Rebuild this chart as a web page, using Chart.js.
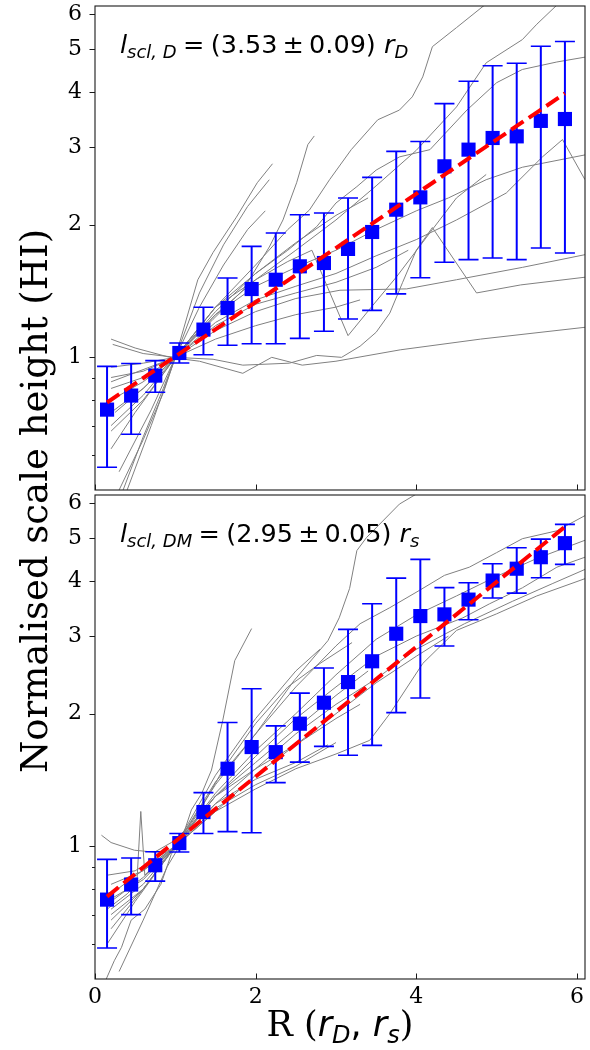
<!DOCTYPE html>
<html>
<head>
<meta charset="utf-8">
<script src="https://cdn.jsdelivr.net/npm/chart.js@4.4.0/dist/chart.umd.min.js"></script>
<style>
  html, body { margin: 0; padding: 0; background: #fff; }
  #wrap { position: relative; width: 590px; height: 1050px; overflow: hidden; }
  canvas { position: absolute; left: 0; }
  #topPanel { top: 0; }
  #botPanel { top: 492px; }
  #yTitle {
    position: absolute; left: -319px; top: 483px; width: 700px; height: 36px;
    line-height: 36px; text-align: center; white-space: nowrap;
    font: 37px "DejaVu Serif"; color: #000; transform: rotate(-90deg);
  }
</style>
</head>
<body>
<div id="wrap">
  <canvas id="topPanel" width="590" height="492"></canvas>
  <canvas id="botPanel" width="590" height="558"></canvas>
  <div id="yTitle">Normalised scale height (HI)</div>
</div>
<script>
// radial bins (R in units of r_D or r_s)
const binR = [0.15, 0.45, 0.75, 1.05, 1.35, 1.65, 1.95, 2.25, 2.55, 2.85,
              3.15, 3.45, 3.75, 4.05, 4.35, 4.65, 4.95, 5.25, 5.55, 5.85];

// stacked median and spread, disc scale length normalisation
const meanD = [0.761, 0.819, 0.909, 1.023, 1.156, 1.294, 1.429, 1.50, 1.609, 1.637,
               1.762, 1.925, 2.163, 2.307, 2.713, 2.96, 3.146, 3.173, 3.44, 3.474];
const lowD  = [0.563, 0.669, 0.833, 0.971, 1.014, 1.065, 1.074, 1.074, 1.104, 1.146,
               1.222, 1.278, 1.393, 1.516, 1.643, 1.666, 1.68, 1.666, 1.771, 1.725];
const highD = [0.954, 0.968, 0.983, 1.078, 1.299, 1.514, 1.786, 1.915, 2.107, 2.126,
               2.299, 2.561, 2.934, 3.09, 3.764, 4.23, 4.59, 4.65, 5.08, 5.21];

// same, dark matter scale radius normalisation
const meanDM = [0.757, 0.819, 0.906, 1.017, 1.196, 1.50, 1.68, 1.636, 1.898, 2.118,
                2.359, 2.63, 3.037, 3.331, 3.36, 3.63, 4.01, 4.266, 4.53, 4.875];
const lowDM  = [0.588, 0.70, 0.834, 0.971, 1.069, 1.08, 1.074, 1.395, 1.553, 1.686,
                1.609, 1.695, 2.011, 2.17, 2.848, 3.268, 3.66, 3.755, 4.07, 4.363];
const highDM = [0.934, 0.941, 0.972, 1.069, 1.324, 1.91, 2.279, 1.877, 2.227, 2.54,
                3.107, 3.553, 4.06, 4.48, 3.864, 3.965, 4.378, 4.76, 4.98, 5.377];

// exponential fits h = A exp(R / l)
const fitNormD = 0.757, fitScaleD = 3.53, fitErrD = 0.09;
const fitNormDM = 0.731, fitScaleDM = 2.95, fitErrDM = 0.05;

// individual galaxy profiles, [R, h] pairs
const profilesD = [
  [[0.2,1.1],[0.5,1.05],[0.93,1.0],[1.3,0.98],[1.84,0.92],[2.2,1.0],[2.58,0.96],[3.0,0.98],[3.8,1.04],[4.8,1.1],[6.1,1.17]],
  [[0.22,1.07],[0.6,1.02],[1.0,1.0],[1.47,0.99],[1.84,0.96],[2.42,0.97],[2.76,1.01],[3.07,1.0],[3.3,1.06],[3.5,1.14],[3.67,1.26],[3.83,1.48],[4.0,1.75],[4.2,1.97],[4.75,1.40],[5.3,1.46],[6.1,1.52]],
  [[0.2,0.62],[0.5,0.75],[1.0,1.0],[1.5,1.3],[2.0,1.5],[2.4,1.65],[2.7,1.75],[3.15,1.12],[3.44,1.3],[3.75,1.52],[4.2,1.95],[4.5,2.3],[4.87,2.6]],
  [[0.2,0.95],[0.6,0.97],[1.0,1.0],[1.5,1.15],[2.0,1.27],[2.5,1.36],[3.05,1.42],[3.88,1.43],[4.5,1.5],[5.32,1.6],[6.1,1.71]],
  [[0.35,0.5],[0.6,0.66],[0.85,0.85],[1.0,1.0],[1.28,1.5],[1.47,1.73],[1.76,2.08],[2.02,2.49],[2.21,2.75]],
  [[0.3,0.5],[0.6,0.65],[0.85,0.83],[1.0,1.0],[1.3,1.4],[1.6,1.8],[1.9,2.2],[2.17,2.53]],
  [[0.4,0.5],[0.7,0.7],[1.0,1.0],[1.3,1.3],[1.6,1.62],[1.9,1.95],[2.12,2.15]],
  [[0.3,0.55],[0.7,0.76],[1.0,1.0],[1.47,1.22],[1.84,1.42],[2.17,1.78],[2.34,2.05],[2.51,2.49],[2.65,3.04],[2.73,3.18]],
  [[0.25,0.75],[0.6,0.85],[1.0,1.0],[1.5,1.3],[2.0,1.62],[2.4,1.95],[2.67,2.16],[2.92,2.53],[3.19,2.96],[3.52,3.46],[3.79,3.64],[3.95,3.9],[4.08,4.33],[4.2,5.07],[4.5,5.6],[4.85,6.3]],
  [[0.2,0.85],[0.6,0.9],[1.0,1.0],[1.5,1.3],[2.0,1.55],[2.4,1.75],[2.76,1.98],[3.0,2.24],[3.26,2.44],[3.5,2.66],[3.79,2.85],[4.17,2.96],[4.63,3.64],[5.0,4.2],[5.32,4.5],[5.75,4.68],[6.1,4.8]],
  [[0.2,0.9],[0.6,0.93],[1.0,1.0],[1.5,1.25],[2.0,1.5],[2.5,1.75],[3.0,2.05],[3.5,2.45],[4.0,2.95],[4.5,3.7],[4.87,4.66],[5.32,5.26],[5.5,5.7],[5.75,6.3]],
  [[0.2,0.7],[0.6,0.82],[1.0,1.0],[1.5,1.2],[2.0,1.35],[2.5,1.45],[3.0,1.55],[3.5,1.7],[4.0,1.85],[4.5,2.05],[5.12,2.36],[5.57,2.85],[5.82,3.12],[6.1,2.53]],
  [[0.2,0.8],[0.6,0.88],[1.0,1.0],[1.5,1.25],[2.0,1.45],[2.5,1.6],[3.0,1.75],[3.5,1.95],[4.0,2.15],[4.4,2.3],[4.87,2.53],[5.32,2.7],[6.1,2.88]],
  [[0.2,0.75],[0.6,0.85],[1.0,1.0],[1.5,1.27],[2.0,1.55],[2.5,1.82],[3.0,2.1],[3.4,2.3]],
  [[0.2,0.68],[0.6,0.8],[1.0,1.0],[1.5,1.18],[2.0,1.32],[2.5,1.4],[3.0,1.48],[3.5,1.6],[3.9,1.75]],
  [[0.2,0.88],[1.0,1.0],[1.5,1.1],[2.0,1.18],[2.5,1.25],[3.0,1.3],[3.3,1.35]]
];

const profilesDM = [
  [[0.3,0.52],[0.6,0.68],[0.9,0.9],[1.05,1.0],[1.2,1.21],[1.33,1.32],[1.45,1.49],[1.59,1.93],[1.74,2.64],[1.95,3.12]],
  [[0.2,0.7],[0.6,0.8],[1.0,1.0],[1.5,1.38],[2.0,1.8],[2.48,2.38],[2.9,2.93],[3.04,3.3],[3.17,3.85],[3.26,4.69],[3.38,5.02],[3.79,5.98],[4.0,6.3]],
  [[0.2,0.72],[0.6,0.82],[1.0,1.0],[1.5,1.4],[2.0,1.8],[2.5,2.3],[3.0,2.85],[3.3,3.2],[3.67,3.48],[4.04,3.81],[4.35,4.12],[4.66,4.3],[5.0,4.64],[5.32,4.99],[5.75,5.2],[6.1,5.63]],
  [[0.2,0.75],[0.6,0.85],[1.0,1.0],[1.5,1.3],[2.0,1.6],[2.5,1.95],[3.0,2.3],[3.5,2.7],[4.0,3.0],[4.58,3.3],[4.91,3.55],[5.32,3.86],[5.75,4.3],[6.1,4.53]],
  [[0.2,0.68],[0.6,0.8],[1.0,1.0],[1.5,1.2],[2.0,1.35],[2.5,1.5],[3.0,1.62],[3.42,1.74],[3.67,2.0],[4.08,2.6],[4.5,3.09],[5.0,3.37],[5.5,3.7],[6.1,4.05]],
  [[0.2,0.78],[1.0,1.0],[1.5,1.25],[2.0,1.5],[2.5,1.8],[3.0,2.1],[3.5,2.4],[4.0,2.8],[4.6,3.2],[5.2,3.6],[5.7,3.95],[6.1,4.25]],
  [[0.15,0.72],[0.4,0.78],[0.52,0.82],[0.57,1.2],[0.62,0.86],[0.8,0.93],[1.0,1.0],[1.5,1.3],[2.0,1.55],[2.5,1.85],[3.0,2.2],[3.4,2.5]],
  [[0.08,1.06],[0.2,1.02],[0.49,0.98],[0.74,0.97],[0.95,1.02],[1.2,1.12],[1.5,1.3],[2.0,1.5],[2.5,1.7],[3.0,1.95],[3.3,2.1]],
  [[0.14,0.5],[0.24,0.55],[0.33,0.59],[0.45,0.68],[0.62,0.72],[0.82,0.82],[0.95,0.96],[1.1,1.05],[1.5,1.25],[2.0,1.42],[2.5,1.55],[2.9,1.7]],
  [[0.15,0.6],[0.5,0.75],[1.0,1.0],[1.5,1.45],[2.0,1.95],[2.5,2.5],[2.8,2.8]],
  [[0.2,0.82],[0.6,0.88],[1.0,1.0],[1.5,1.2],[2.0,1.45],[2.5,1.7],[3.0,2.0],[3.5,2.35],[4.0,2.7],[4.4,3.0]],
  [[0.2,0.76],[0.6,0.84],[1.0,1.0],[1.3,1.2],[1.6,1.5],[2.0,1.9],[2.4,2.3],[2.8,2.6],[3.2,2.9]],
  [[0.15,0.86],[0.5,0.88],[1.0,1.0],[1.5,1.22],[2.0,1.38],[2.5,1.52],[3.0,1.72]],
  [[0.2,0.65],[0.6,0.8],[1.0,1.0],[1.5,1.32],[2.0,1.65],[2.5,2.0],[3.0,2.45],[3.5,2.95],[4.0,3.35],[4.5,3.7],[5.0,4.1],[5.5,4.5],[6.1,4.95]]
];

// axis ticks
const xTicks = [0, 2, 4, 6];
const yTicks = [0.6, 0.7, 0.8, 0.9, 1, 2, 3, 4, 5, 6];
const yLabelled = [1, 2, 3, 4, 5, 6];

const BLUE = '#0000ff', RED = '#ff0000', GREY = '#808080';
const SERIF = '"DejaVu Serif", serif';
const SANS = '"DejaVu Sans", sans-serif';

// text made of runs with their own font and vertical shift; a run may be a plain gap
function drawRuns(ctx, runs, x, y, align) {
  let total = 0;
  runs.forEach(r => {
    if (r.gap) { r.w = r.gap; } else { ctx.font = r.font; r.w = ctx.measureText(r.text).width; }
    total += r.w;
  });
  let cx = align === 'center' ? x - total / 2 : x;
  ctx.textAlign = 'left';
  ctx.textBaseline = 'alphabetic';
  ctx.fillStyle = '#000';
  runs.forEach(r => {
    if (!r.gap) { ctx.font = r.font; ctx.fillText(r.text, cx, y + (r.dy || 0)); }
    cx += r.w;
  });
}

// error bars, drawn just before the square markers
const errorBars = {
  id: 'errorBars',
  beforeDatasetDraw(chart, args) {
    const ds = chart.data.datasets[args.index];
    if (!ds.errLow) return;
    const { ctx, chartArea: a, scales: { x, y } } = chart;
    ctx.save();
    ctx.beginPath();
    ctx.rect(a.left, a.top, a.right - a.left, a.bottom - a.top);
    ctx.clip();
    ctx.strokeStyle = BLUE;
    ds.data.forEach((p, i) => {
      const px = x.getPixelForValue(p.x);
      const top = y.getPixelForValue(ds.errHigh[i]);
      const bot = y.getPixelForValue(ds.errLow[i]);
      ctx.lineWidth = 2;
      ctx.beginPath();
      ctx.moveTo(px, top); ctx.lineTo(px, bot);
      ctx.stroke();
      ctx.lineWidth = 1.6;
      ctx.beginPath();
      ctx.moveTo(px - 10, top); ctx.lineTo(px + 10, top);
      ctx.moveTo(px - 10, bot); ctx.lineTo(px + 10, bot);
      ctx.stroke();
    });
    ctx.restore();
  }
};

// axes frame, tick marks and the fit annotation
const frameAndTicks = {
  id: 'frameAndTicks',
  afterDatasetsDraw(chart, args, opts) {
    const { ctx, chartArea: a, scales: { x, y } } = chart;
    ctx.save();
    ctx.strokeStyle = '#1a1a1a';
    ctx.lineWidth = 1.1;
    ctx.strokeRect(a.left, a.top, a.right - a.left, a.bottom - a.top);
    ctx.lineWidth = 1;
    ctx.beginPath();
    y.ticks.forEach(t => {
      const py = Math.round(y.getPixelForValue(t.value)) + 0.5;
      const len = yLabelled.includes(t.value) ? 5.5 : 3;
      ctx.moveTo(a.left - len, py); ctx.lineTo(a.left, py);
    });
    xTicks.forEach(v => {
      const px = Math.round(x.getPixelForValue(v)) + 0.5;
      ctx.moveTo(px, a.bottom); ctx.lineTo(px, a.bottom - 5.5);
    });
    ctx.stroke();
    ctx.restore();

    const big = 25.5, small = 18;
    drawRuns(ctx, [
      { text: 'l', font: `italic ${big}px ${SANS}` },
      { text: 'scl, ' + opts.sub, font: `italic ${small}px ${SANS}`, dy: 5 },
      { gap: big * 0.25 },
      { text: '=', font: `${big}px ${SANS}` },
      { gap: big * 0.25 },
      { text: '(' + opts.scale.toFixed(2), font: `${big}px ${SANS}` },
      { gap: big * 0.2 },
      { text: '±', font: `${big}px ${SANS}` },
      { gap: big * 0.2 },
      { text: opts.err.toFixed(2) + ') ', font: `${big}px ${SANS}` },
      { text: 'r', font: `italic ${big}px ${SANS}` },
      { text: opts.unit, font: `italic ${small}px ${SANS}`, dy: 5 }
    ], a.left + 25, a.top + 47, 'left');

    if (opts.xTitle) {
      drawRuns(ctx, [
        { text: 'R (', font: `35px ${SERIF}` },
        { text: 'r', font: `italic 35px ${SANS}` },
        { text: 'D', font: `italic 24px ${SANS}`, dy: 7 },
        { text: ', ', font: `35px ${SANS}` },
        { text: 'r', font: `italic 35px ${SANS}` },
        { text: 's', font: `italic 24px ${SANS}`, dy: 7 },
        { text: ')', font: `35px ${SERIF}` }
      ], (a.left + a.right) / 2, a.bottom + 57, 'center');
    }
  }
};

function makePanel(id, mean, low, high, profiles, norm, scale, err, sub, unit, withXAxis) {
  const fitLine = [binR[0], binR[binR.length - 1]].map(r => ({ x: r, y: norm * Math.exp(r / scale) }));
  const datasets = [
    { type: 'line', data: fitLine, borderColor: RED, borderWidth: 4, borderDash: [14.8, 6.4],
      pointRadius: 0, fill: false },
    { type: 'line', data: binR.map((r, i) => ({ x: r, y: mean[i] })), showLine: false,
      pointStyle: 'rect', pointRadius: 10, backgroundColor: BLUE, borderColor: BLUE, borderWidth: 0,
      errLow: low, errHigh: high }
  ];
  profiles.forEach(p => datasets.push({
    type: 'line', data: p.map(q => ({ x: q[0], y: q[1] })),
    borderColor: GREY, borderWidth: 1, pointRadius: 0, tension: 0, fill: false
  }));

  return new Chart(document.getElementById(id), {
    type: 'line',
    data: { datasets },
    plugins: [errorBars, frameAndTicks],
    options: {
      responsive: false,
      animation: false,
      events: [],
      layout: {
        autoPadding: false,
        padding: withXAxis ? { top: 3, right: 5, bottom: 0, left: 0 } : { top: 6, right: 5, bottom: 2, left: 0 }
      },
      plugins: {
        legend: { display: false },
        tooltip: { enabled: false },
        frameAndTicks: { scale, err, sub, unit, xTitle: withXAxis }
      },
      scales: {
        x: {
          type: 'linear', min: 0, max: 6.1,
          display: withXAxis,
          grid: { display: false, drawTicks: false },
          border: { display: false },
          afterBuildTicks: s => { s.ticks = xTicks.map(v => ({ value: v })); },
          ticks: { padding: 5, color: '#000', font: { family: SERIF, size: 22 }, autoSkip: false, maxRotation: 0 },
          afterFit: s => { s.height = withXAxis ? 71 : 0; s.paddingLeft = 0; s.paddingRight = 0; }
        },
        y: {
          type: 'logarithmic', min: 0.5, max: 6.27,
          grid: { display: false, drawTicks: false },
          border: { display: false },
          afterBuildTicks: s => { s.ticks = yTicks.map(v => ({ value: v })); },
          ticks: {
            padding: 13, color: '#000', font: { family: SERIF, size: 22 }, autoSkip: false,
            callback: v => yLabelled.includes(v) ? String(v) : ''
          },
          afterFit: s => { s.width = 95; s.paddingTop = 0; s.paddingBottom = 0; }
        }
      }
    }
  });
}

makePanel('topPanel', meanD, lowD, highD, profilesD, fitNormD, fitScaleD, fitErrD, 'D', 'D', false);
makePanel('botPanel', meanDM, lowDM, highDM, profilesDM, fitNormDM, fitScaleDM, fitErrDM, 'DM', 's', true);
</script>
</body>
</html>
